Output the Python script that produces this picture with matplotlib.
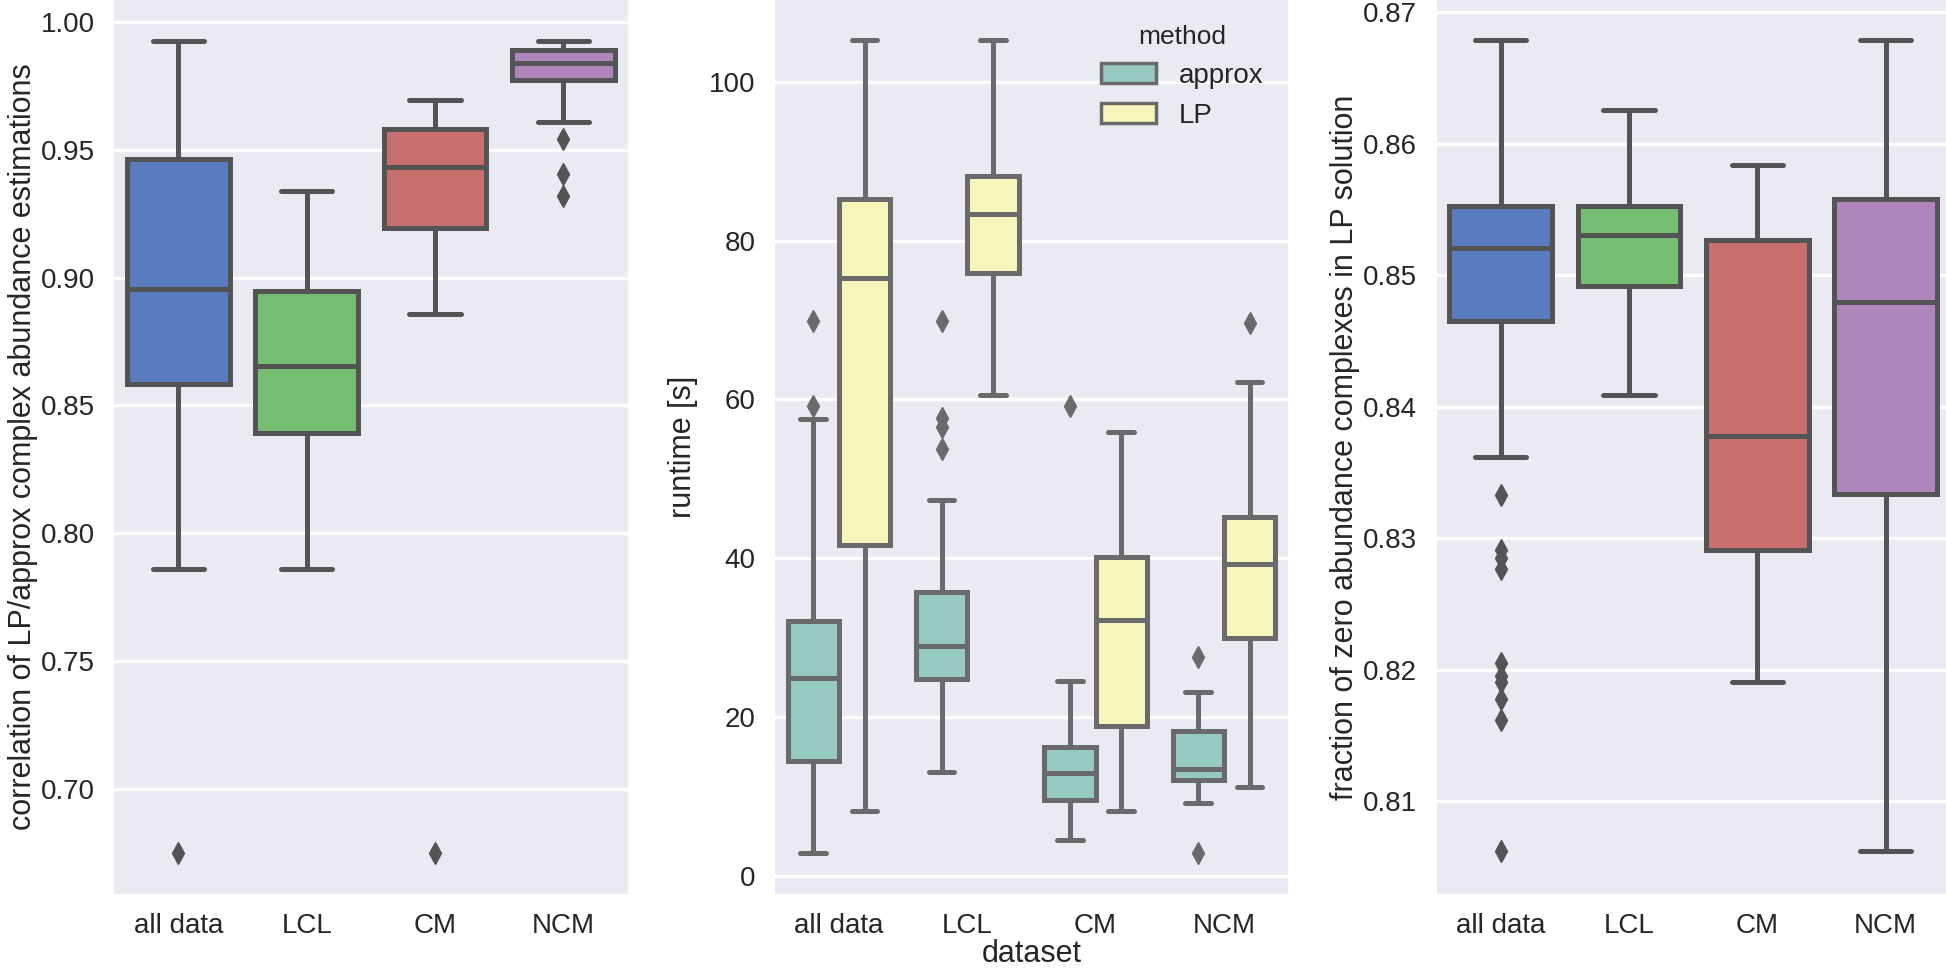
import colorsys
import matplotlib.pyplot as plt
import matplotlib.colors as mcolors
from matplotlib.patches import Patch
import seaborn as sns

sns.set_style("darkgrid")
plt.rcParams['font.family'] = ['Liberation Sans', 'DejaVu Sans']

datasets = ["all data", "LCL", "CM", "NCM"]

# correlation of LP/approx estimations (box stats)
corr_whislo = [0.7862, 0.7862, 0.8859, 0.9607]
corr_q1 = [0.8585, 0.8391, 0.9194, 0.9774]
corr_med = [0.8954, 0.8653, 0.9434, 0.9840]
corr_q3 = [0.9466, 0.8949, 0.9583, 0.9891]
corr_whishi = [0.9927, 0.9340, 0.9694, 0.9927]
corr_fliers = [[0.6748], [], [0.6748], [0.9541, 0.9405, 0.9320]]

# runtime, approx method
appr_whislo = [2.9, 13.1, 4.5, 9.2]
appr_q1 = [14.5, 24.8, 9.5, 12.1]
appr_med = [24.9, 29.0, 12.9, 13.5]
appr_q3 = [32.1, 35.8, 16.2, 18.2]
appr_whishi = [57.5, 47.3, 24.5, 23.2]
appr_fliers = [[69.9, 59.2], [69.9, 57.7, 56.5, 53.8], [59.2], [27.5, 2.9]]

# runtime, LP method
lp_whislo = [8.2, 60.6, 8.2, 11.2]
lp_q1 = [41.6, 75.9, 18.9, 30.0]
lp_med = [75.3, 83.3, 32.2, 39.3]
lp_q3 = [85.3, 88.1, 40.1, 45.2]
lp_whishi = [105.2, 105.2, 55.9, 62.2]
lp_fliers = [[], [], [], [69.6]]

# fraction of zero abundance complexes in LP solution
zero_whislo = [0.8362, 0.8409, 0.8191, 0.8062]
zero_q1 = [0.8465, 0.8492, 0.8291, 0.8334]
zero_med = [0.8521, 0.8531, 0.8378, 0.8480]
zero_q3 = [0.8553, 0.8553, 0.8527, 0.8558]
zero_whishi = [0.8679, 0.8626, 0.8584, 0.8679]
zero_fliers = [[0.8333, 0.8291, 0.8285, 0.8277, 0.8205, 0.8195, 0.8191,
                0.8178, 0.8162, 0.8062], [], [], []]

methods = ["approx", "LP"]

muted = ["#4878CF", "#6ACC65", "#D65F5F", "#B47CC7"]
set3 = ["#8DD3C7", "#FFFFB3"]


def desat(c, prop=0.75):
    h, l, s = colorsys.rgb_to_hls(*mcolors.to_rgb(c))
    return colorsys.hls_to_rgb(h, l, s * prop)


def line_gray(colors):
    lum = min(colorsys.rgb_to_hls(*mcolors.to_rgb(c))[1] for c in colors) * .6
    return (lum, lum, lum)


def draw_boxes(ax, whislo, q1, med, q3, whishi, fliers, positions, width,
               colors, gray):
    stats = []
    for i in range(len(med)):
        stats.append(dict(whislo=whislo[i], q1=q1[i], med=med[i], q3=q3[i],
                          whishi=whishi[i], fliers=fliers[i]))
    lw = 3.6
    out = ax.bxp(stats, positions=positions, widths=width,
                 capwidths=width / 2, patch_artist=True, manage_ticks=False,
                 boxprops=dict(edgecolor=gray, linewidth=lw),
                 whiskerprops=dict(color=gray, linewidth=lw),
                 capprops=dict(color=gray, linewidth=lw),
                 medianprops=dict(color=gray, linewidth=lw),
                 flierprops=dict(marker="d", markerfacecolor=gray,
                                 markeredgecolor=gray, markersize=11))
    for box, c in zip(out["boxes"], colors):
        box.set_facecolor(c)
    return out


fig = plt.figure(figsize=(19.46, 9.68), dpi=100)
bottom = 0.0764
height = 0.9236
ax1 = fig.add_axes([0.0587, bottom, 0.2638, height])
ax2 = fig.add_axes([0.3981, bottom, 0.2638, height])
ax3 = fig.add_axes([0.7382, bottom, 0.2638, height])

xs = list(range(len(datasets)))

# panel 1
cols = [desat(c) for c in muted]
g = line_gray(cols)
draw_boxes(ax1, corr_whislo, corr_q1, corr_med, corr_q3, corr_whishi,
           corr_fliers, xs, 0.8, cols, g)
ax1.set_ylim(0.6589, 1.0086)
ax1.set_yticks([0.70, 0.75, 0.80, 0.85, 0.90, 0.95, 1.00])
ax1.set_yticklabels(["%.2f" % t for t in ax1.get_yticks()])
ax1.set_ylabel("correlation of LP/approx complex abundance estimations",
               fontsize=22, labelpad=2)

# panel 2
cols2 = [desat(c) for c in set3]
g2 = line_gray(cols2)
draw_boxes(ax2, appr_whislo, appr_q1, appr_med, appr_q3, appr_whishi,
           appr_fliers, [x - 0.2 for x in xs], 0.4, [cols2[0]] * 4, g2)
draw_boxes(ax2, lp_whislo, lp_q1, lp_med, lp_q3, lp_whishi,
           lp_fliers, [x + 0.2 for x in xs], 0.4, [cols2[1]] * 4, g2)
ax2.set_ylim(-2.3, 110.3)
ax2.set_yticks([0, 20, 40, 60, 80, 100])
ax2.set_ylabel("runtime [s]", fontsize=22, labelpad=8)
ax2.set_xlabel("dataset", fontsize=22, labelpad=0)
handles = [Patch(facecolor=cols2[i], edgecolor=g2, linewidth=2.5, label=m)
           for i, m in enumerate(methods)]
leg = ax2.legend(handles=handles, title="method", loc="upper right",
                 fontsize=20, title_fontsize=19, frameon=False,
                 bbox_to_anchor=(1.0, 1.0))

# panel 3
draw_boxes(ax3, zero_whislo, zero_q1, zero_med, zero_q3, zero_whishi,
           zero_fliers, xs, 0.8, cols, g)
ax3.set_ylim(0.80295, 0.87094)
ax3.set_yticks([0.81, 0.82, 0.83, 0.84, 0.85, 0.86, 0.87])
ax3.set_yticklabels(["%.2f" % t for t in ax3.get_yticks()])
ax3.set_ylabel("fraction of zero abundance complexes in LP solution",
               fontsize=22, labelpad=2)

for ax in (ax1, ax2, ax3):
    ax.set_xlim(-0.5, 3.5)
    ax.set_xticks(xs)
    ax.set_xticklabels(datasets)
    ax.xaxis.grid(False)
    ax.yaxis.grid(True, color="white", linewidth=2.4)
    ax.set_axisbelow(True)
    ax.tick_params(labelsize=20, pad=14, length=0)
    for s in ax.spines.values():
        s.set_visible(False)

fig.savefig("out.png", dpi=100)
